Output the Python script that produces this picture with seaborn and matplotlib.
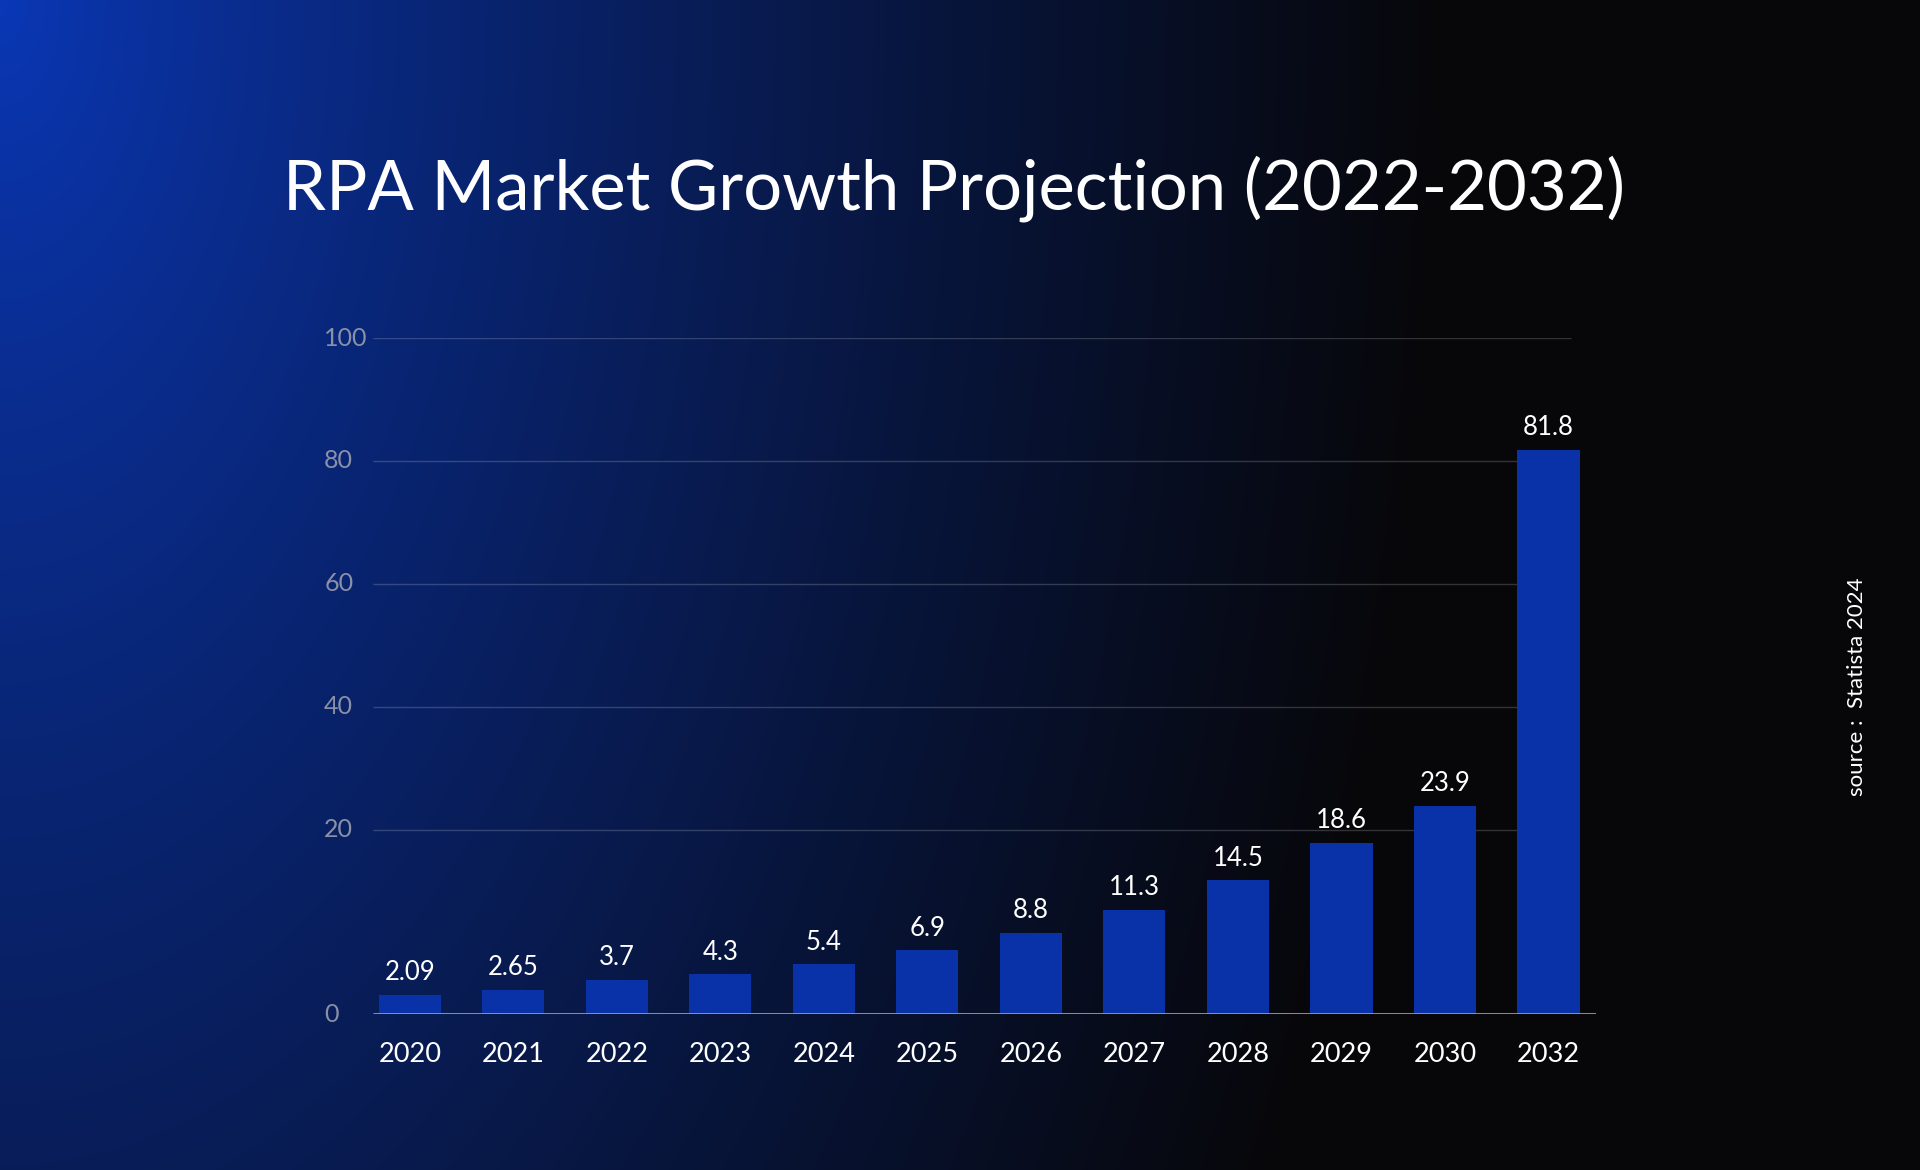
import numpy as np
import pandas as pd
import matplotlib
matplotlib.use("Agg")
import matplotlib.pyplot as plt
import matplotlib.transforms as mtransforms
import seaborn as sns

# data
years = ["2020", "2021", "2022", "2023", "2024", "2025", "2026", "2027", "2028", "2029", "2030", "2032"]
market_size = [2.09, 2.65, 3.7, 4.3, 5.4, 6.9, 8.8, 11.3, 14.5, 18.6, 23.9, 81.8]
value_labels = ["2.09", "2.65", "3.7", "4.3", "5.4", "6.9", "8.8", "11.3", "14.5", "18.6", "23.9", "81.8"]
y_ticks = [0, 20, 40, 60, 80, 100]

title = "RPA Market Growth Projection (2022-2032)"
source = "source :  Statista 2024"

BAR_COLOR = "#0a32a8"

sns.set_theme(style="white")
plt.rcParams["font.family"] = ["Lato", "DejaVu Sans"]

df = pd.DataFrame({"year": years, "size": market_size})

fig = plt.figure(figsize=(19.2, 11.7), dpi=100)

# background gradient: blue in the top-left corner fading to near black
bg = fig.add_axes([0, 0, 1, 1], zorder=0)
h, w = 1170, 1920
yy, xx = np.mgrid[0:h, 0:w]
d = np.sqrt((xx / 1450.0) ** 2 + (yy / 2500.0) ** 2)
s = np.clip(d, 0, 1) ** 0.8
blue = np.array([10, 56, 184]) / 255.0
dark = np.array([7, 7, 9]) / 255.0
img = blue[None, None, :] * (1 - s[..., None]) + dark[None, None, :] * s[..., None]
bg.imshow(img, aspect="auto", extent=[0, 1, 0, 1], origin="upper")
bg.axis("off")

ax = fig.add_axes([0.1943, 0.1333, 0.6370, 0.5778], zorder=1)
ax.set_facecolor("none")


# the chart's axis is stretched below 20
def fwd(y):
    y = np.asarray(y, dtype=float)
    return np.where(y <= 20, y * 1.5, 30 + (y - 20))


def inv(t):
    t = np.asarray(t, dtype=float)
    return np.where(t <= 30, t / 1.5, t - 30 + 20)


ax.set_yscale("function", functions=(fwd, inv))

sns.barplot(data=df, x="year", y="size", color=BAR_COLOR, saturation=1,
            width=0.6, linewidth=0, ax=ax, zorder=3)

ax.set_xlim(-0.355, 11.46)
ax.set_ylim(0, 100)

# gridlines and baseline
ax.hlines(y_ticks[1:], -0.355, 11.22, color="white", alpha=0.18, lw=1, zorder=1)
ax.hlines(0, -0.355, 11.46, color="#9a9a9a", lw=2, zorder=4)

for sp in ax.spines.values():
    sp.set_visible(False)

ax.set_yticks([])
trans = mtransforms.blended_transform_factory(ax.transAxes, ax.transData)
for t in y_ticks:
    ax.text(-0.040, t, str(t), transform=trans, ha="left", va="center",
            fontsize=18, color="#8a90a6")

ax.set_xlabel("")
ax.set_ylabel("")
ax.tick_params(axis="x", length=0, pad=20, labelsize=19.5, colors="white")

ax.bar_label(ax.containers[0], labels=value_labels, padding=7,
             fontsize=18.5, color="white")

fig.text(0.497, 0.8385, title, ha="center", va="center", fontsize=49.5, color="white")
fig.text(0.967, 0.4128, source, rotation=90, ha="center", va="center",
         fontsize=16, color="white")

fig.savefig("out.png", dpi=100)
